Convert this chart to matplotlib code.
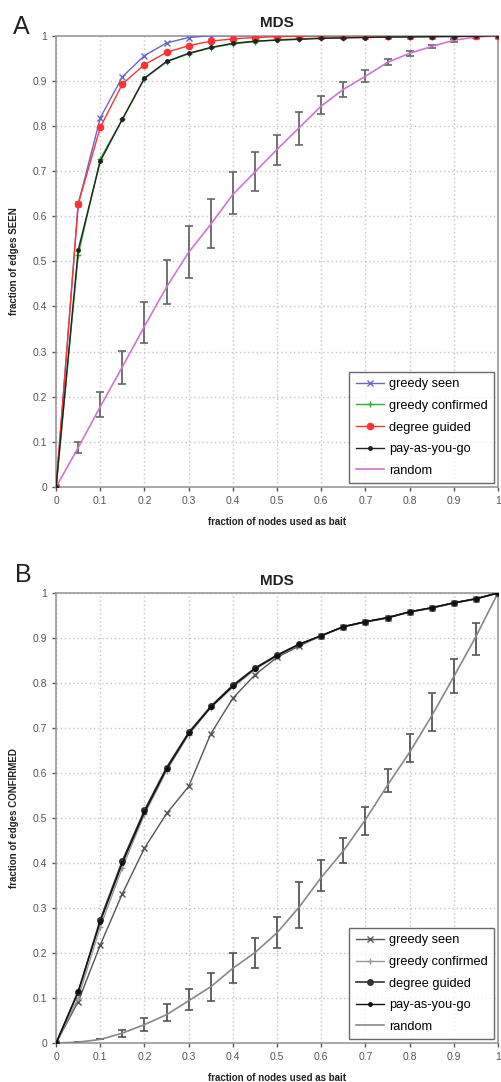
import numpy as np
import matplotlib
matplotlib.use("Agg")
import matplotlib.pyplot as plt

plt.rcParams['font.family'] = ['Liberation Sans', 'DejaVu Sans']

x = np.round(np.arange(0, 1.0001, 0.05), 2)

# ---- panel A: fraction of edges SEEN
a_greedy_seen = [0, 0.627, 0.818, 0.909, 0.956, 0.984, 0.996, 1, 1, 1, 1,
                 1, 1, 1, 1, 1, 1, 1, 1, 1, 1]
a_greedy_conf = [0, 0.515, 0.727, 0.815, 0.905, 0.942, 0.960, 0.973, 0.982, 0.987, 0.991,
                 0.993, 0.995, 0.996, 0.997, 0.997, 0.998, 0.998, 0.999, 0.999, 1]
a_degree = [0, 0.627, 0.797, 0.893, 0.936, 0.963, 0.978, 0.988, 0.993, 0.996, 0.998,
            0.999, 1, 1, 1, 1, 1, 1, 1, 1, 1]
a_payg = [0, 0.525, 0.722, 0.815, 0.906, 0.943, 0.961, 0.974, 0.983, 0.988, 0.990,
          0.992, 0.994, 0.995, 0.996, 0.997, 0.997, 0.998, 0.998, 0.999, 1]
a_random = [0, 0.087, 0.178, 0.266, 0.356, 0.443, 0.520, 0.582, 0.648, 0.698, 0.748,
            0.796, 0.844, 0.881, 0.910, 0.941, 0.961, 0.976, 0.990, 0.997, 1]
a_rand_lo = [0, 0.076, 0.155, 0.228, 0.319, 0.406, 0.462, 0.530, 0.604, 0.656, 0.713,
             0.757, 0.826, 0.865, 0.898, 0.934, 0.956, 0.972, 0.987, 0.995, 1]
a_rand_hi = [0, 0.099, 0.210, 0.302, 0.410, 0.502, 0.578, 0.637, 0.698, 0.743, 0.781,
             0.831, 0.867, 0.898, 0.924, 0.948, 0.966, 0.980, 0.993, 0.999, 1]

# ---- panel B: fraction of edges CONFIRMED
b_greedy_seen = [0, 0.092, 0.218, 0.332, 0.433, 0.510, 0.570, 0.687, 0.766, 0.818, 0.857,
                 0.882, 0.905, 0.925, 0.936, 0.945, 0.958, 0.967, 0.978, 0.987, 1]
b_greedy_conf = [0, 0.100, 0.258, 0.390, 0.508, 0.605, 0.685, 0.745, 0.790, 0.830, 0.860,
                 0.885, 0.904, 0.924, 0.935, 0.944, 0.957, 0.966, 0.977, 0.986, 1]
b_degree = [0, 0.113, 0.274, 0.405, 0.517, 0.612, 0.690, 0.748, 0.795, 0.833, 0.862,
            0.886, 0.905, 0.925, 0.936, 0.945, 0.958, 0.967, 0.978, 0.987, 1]
b_payg = [0, 0.115, 0.270, 0.400, 0.513, 0.609, 0.688, 0.746, 0.793, 0.832, 0.861,
          0.886, 0.905, 0.925, 0.936, 0.945, 0.958, 0.967, 0.978, 0.987, 1]
b_random = [0, 0.002, 0.008, 0.022, 0.041, 0.063, 0.094, 0.125, 0.166, 0.201, 0.245,
            0.302, 0.368, 0.427, 0.496, 0.573, 0.646, 0.727, 0.814, 0.903, 1]
b_rand_lo = [0, 0.002, 0.008, 0.014, 0.027, 0.050, 0.074, 0.094, 0.133, 0.166, 0.211,
             0.255, 0.337, 0.399, 0.462, 0.557, 0.624, 0.694, 0.778, 0.862, 1]
b_rand_hi = [0, 0.002, 0.008, 0.029, 0.055, 0.087, 0.121, 0.156, 0.201, 0.234, 0.281,
             0.357, 0.407, 0.456, 0.525, 0.608, 0.687, 0.777, 0.853, 0.933, 1]

labels = ['greedy seen', 'greedy confirmed', 'degree guided', 'pay-as-you-go', 'random']
ticks = np.round(np.arange(0, 1.0001, 0.1), 1)
ticklabels = ['0'] + ['%.1f' % t for t in ticks[1:-1]] + ['1']

fig = plt.figure(figsize=(5.01, 10.82), dpi=100)


def style(ax, ylabel):
    ax.set_xlim(0, 1)
    ax.set_ylim(0, 1)
    ax.set_xticks(ticks)
    ax.set_yticks(ticks)
    ax.set_xticklabels(ticklabels)
    ax.set_yticklabels(ticklabels)
    ax.tick_params(labelsize=7.5, colors='#555555', length=3, width=1, direction='out')
    ax.grid(True, color='#c4c4c4', linestyle=(0, (1, 2)), linewidth=1)
    for s in ax.spines.values():
        s.set_color('#999999')
        s.set_linewidth(1.2)
    ax.set_title('MDS', fontsize=11, fontweight='bold', color='#222222', pad=6)
    ax.set_xlabel('fraction of nodes used as bait', fontsize=7, fontweight='bold', color='#222222', labelpad=8)
    ax.set_ylabel(ylabel, fontsize=7, fontweight='bold', color='#222222', labelpad=10)


def legend(ax):
    leg = ax.legend(loc='lower right', fontsize=9.2, frameon=True, fancybox=False,
                    edgecolor='#444444', handlelength=2.2, borderaxespad=0.3,
                    labelspacing=0.75, handletextpad=0.4, borderpad=0.5)
    leg.get_frame().set_linewidth(1.0)


# panel A
ax1 = fig.add_axes([0.112, 0.550, 0.882, 0.417])
ax1.errorbar(x, a_random, yerr=[np.subtract(a_random, a_rand_lo), np.subtract(a_rand_hi, a_random)],
             fmt='none', ecolor='#666666', elinewidth=1.3, capsize=3, capthick=1.2, zorder=2)
ax1.plot(x, a_greedy_seen, color='#6666cc', marker='x', ms=4, lw=1, label=labels[0], zorder=3)
ax1.plot(x, a_greedy_conf, color='#33aa33', marker='+', ms=4, lw=1, label=labels[1], zorder=3)
ax1.plot(x, a_degree, color='#ff3333', marker='o', ms=4.5, lw=1, label=labels[2], zorder=4)
ax1.plot(x, a_payg, color='#222222', marker='o', ms=2.5, lw=1, label=labels[3], zorder=4)
ax1.plot(x, a_random, color='#cc77cc', lw=1.2, label=labels[4], zorder=3)
style(ax1, 'fraction of edges SEEN')
legend(ax1)

# panel B
ax2 = fig.add_axes([0.112, 0.036, 0.882, 0.416])
ax2.errorbar(x, b_random, yerr=[np.subtract(b_random, b_rand_lo), np.subtract(b_rand_hi, b_random)],
             fmt='none', ecolor='#555555', elinewidth=1.3, capsize=3, capthick=1.2, zorder=2)
ax2.plot(x, b_greedy_seen, color='#555555', marker='x', ms=4, lw=1, label=labels[0], zorder=3)
ax2.plot(x, b_greedy_conf, color='#999999', marker='+', ms=4, lw=1, label=labels[1], zorder=3)
ax2.plot(x, b_degree, color='#333333', marker='o', ms=4, lw=1.2, label=labels[2], zorder=4)
ax2.plot(x, b_payg, color='#111111', marker='o', ms=2.5, lw=1, label=labels[3], zorder=4)
ax2.plot(x, b_random, color='#888888', lw=1.2, label=labels[4], zorder=3)
style(ax2, 'fraction of edges CONFIRMED')
legend(ax2)

fig.text(0.026, 0.975, 'A', fontsize=18, color='#222222', va='center')
fig.text(0.030, 0.469, 'B', fontsize=18, color='#222222', va='center')

fig.savefig('out.png', dpi=100)
